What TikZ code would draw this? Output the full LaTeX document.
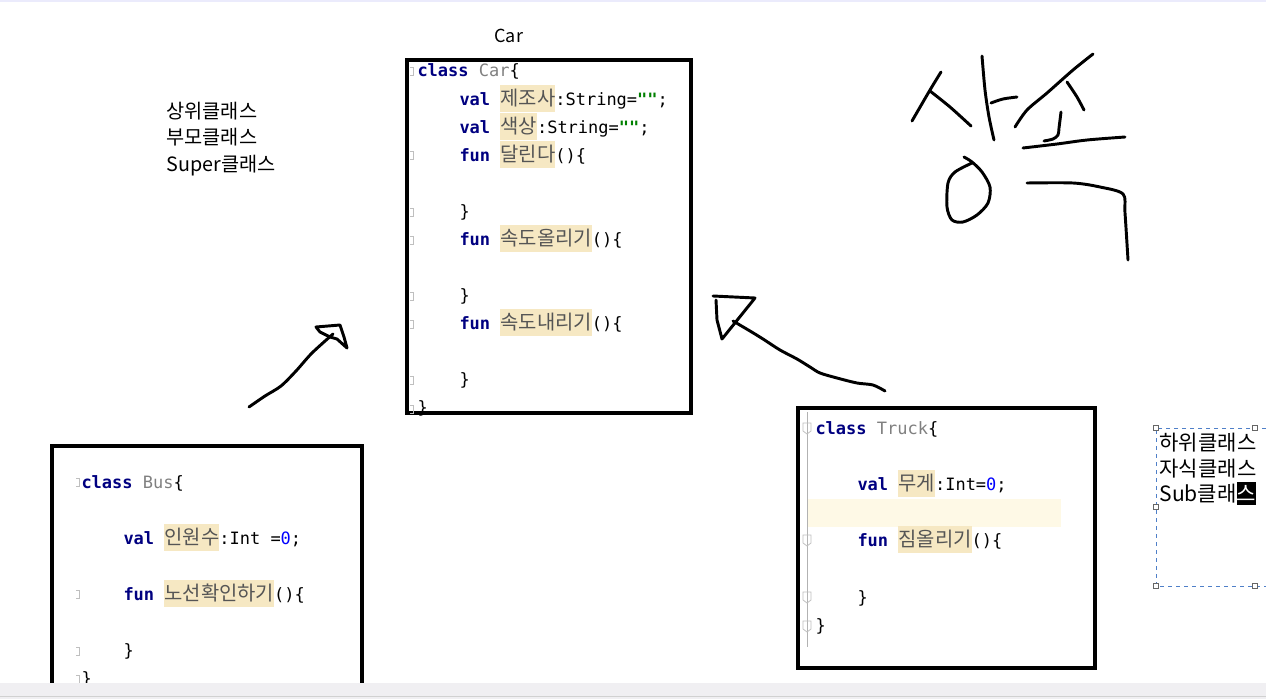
\documentclass[tikz,border=0pt]{standalone}
\usepackage{fontspec}
\setmonofont{DejaVu Sans Mono}
\newfontfamily\krfont{Noto Sans CJK KR}
\newfontfamily\krcode[Scale=1.17]{Noto Sans CJK KR}

\definecolor{kwblue}{HTML}{000080}
\definecolor{namegray}{HTML}{808080}
\definecolor{idgray}{HTML}{555555}
\definecolor{hlbg}{HTML}{F6E8C3}
\definecolor{strgreen}{HTML}{008000}
\definecolor{numblue}{HTML}{0000FF}
\definecolor{rowbg}{HTML}{FEF9E6}
\definecolor{selblue}{HTML}{4F7FC8}
\definecolor{barbg}{HTML}{F0EFF2}

\newcommand\kw[1]{{\bfseries\color{kwblue}#1}}
\newcommand\cname[1]{{\color{namegray}#1}}
\newcommand\hl[1]{{\setlength\fboxsep{0pt}\colorbox{hlbg}{\rule[-0.4em]{0pt}{1.58em}\krcode\color{idgray}#1}}}
\newcommand\str[1]{{\bfseries\color{strgreen}#1}}
\newcommand\num[1]{{\color{numblue}#1}}

\tikzset{every picture/.style={line width=0.75pt}}
\tikzset{
  code/.style={anchor=base west, inner sep=0pt, font=\ttfamily\fontsize{12.75}{15}\selectfont},
  codebox/.style={line width=3pt},
  fold/.style={draw=black!25, line width=0.6pt},
  hand/.style={line width=2.2pt, line cap=round, line join=round},
  label/.style={anchor=base west, inner sep=0pt, align=left},
}

\begin{document}
\begin{tikzpicture}[x=0.75pt,y=0.75pt,yscale=-1]
  \useasboundingbox (0,0) rectangle (1266,699);
  %Shape: Top line
  \fill[black!12!blue!8] (0,0) rectangle (1266,2);

  %Shape: Rectangle Car
  \draw[codebox] (407,60) rectangle (691,413);
  %Shape: Rectangle Bus
  \draw[codebox] (51.5,690) -- (51.5,446) -- (362,446) -- (362,690);
  %Shape: Rectangle Truck
  \fill[rowbg] (807,499) rectangle (1061,527);
  \draw[black!30, line width=0.6pt] (807,412) -- (807,647);
  \draw[codebox] (798,408) rectangle (1095,668);

  %fold marks
  \foreach \y in {71,155,212,240,296,324,380,409} {\draw[fold] (410,\y-4) -- (413,\y-4) -- (413,\y+4) -- (410,\y+4);}
  \foreach \y in {482,594,651,679} {\draw[fold] (76,\y-4) -- (79,\y-4) -- (79,\y+4) -- (76,\y+4);}
  \foreach \y in {428,540,597,626} {\draw[fold] (803,\y-5) -- (811,\y-5) -- (811,\y+3) -- (807,\y+6) -- (803,\y+3) -- cycle;}

  % Text Node: Car
  \node[code] (car1) at (417,77) {\kw{class} \cname{Car}\{};
  \node[code] (car2) at (459,105) {\kw{val} \hl{제조사}:String=\str{""};};
  \node[code] (car3) at (459,133) {\kw{val} \hl{색상}:String=\str{""};};
  \node[code] (car4) at (459,161) {\kw{fun} \hl{달린다}()\{};
  \node[code] (car5) at (459,217) {\}};
  \node[code] (car6) at (459,245) {\kw{fun} \hl{속도올리기}()\{};
  \node[code] (car7) at (459,301) {\}};
  \node[code] (car8) at (459,329) {\kw{fun} \hl{속도내리기}()\{};
  \node[code] (car9) at (459,385) {\}};
  \node[code] (car10) at (417,413) {\}};

  % Text Node: Bus
  \node[code] (bus1) at (81,488) {\kw{class} \cname{Bus}\{};
  \node[code] (bus2) at (123,544) {\kw{val} \hl{인원수}:Int =\num{0};};
  \node[code] (bus3) at (123,600) {\kw{fun} \hl{노선확인하기}()\{};
  \node[code] (bus4) at (123,656) {\}};
  \node[code] (bus5) at (81,684) {\}};

  % Text Node: Truck
  \node[code] (truck1) at (815,434) {\kw{class} \cname{Truck}\{};
  \node[code] (truck2) at (857,490) {\kw{val} \hl{무게}:Int=\num{0};};
  \node[code] (truck3) at (857,546) {\kw{fun} \hl{짐올리기}()\{};
  \node[code] (truck4) at (857,603) {\}};
  \node[code] (truck5) at (815,631) {\}};

  % Text Node
  \node[label, font=\krfont\fontsize{13.5}{16}\selectfont] (carlbl) at (494,43) {Car};
  % Text Node
  \node[label, font=\krfont\fontsize{14.8}{17}\selectfont] (super1) at (166,118) {상위클래스};
  \node[label, font=\krfont\fontsize{14.8}{17}\selectfont] (super2) at (166,144) {부모클래스};
  \node[label, font=\krfont\fontsize{14.8}{17}\selectfont] (super3) at (166,171) {Super클래스};
  % Text Node
  \node[label, font=\krfont\fontsize{15.8}{18}\selectfont] (sub1) at (1159,450) {하위클래스};
  \node[label, font=\krfont\fontsize{15.8}{18}\selectfont] (sub2) at (1159,476) {자식클래스};
  \node[label, font=\krfont\fontsize{15.8}{18}\selectfont] (sub3) at (1159,501) {Sub클래{\setlength\fboxsep{0pt}\colorbox{black}{\rule[-0.2em]{0pt}{1.1em}\color{white}스}}};

  %Shape: selection frame
  \draw[selblue, dashed, line width=0.75pt] (1266,428) -- (1156,428) -- (1156,586) -- (1266,586);
  \foreach \p in {(1156,428),(1255,428),(1156,507),(1156,586),(1255,586)}
    \draw[black!60, fill=white, line width=0.6pt] \p +(-2.5,-2.5) rectangle +(2.5,2.5);

  %Curve Lines: left arrow
  \draw[hand] plot[smooth, tension=0.5] coordinates {(249,407) (265,396) (281,386) (296,371) (312,353) (333,334)};
  \draw[hand] (316,327) -- (320,332) -- (330,337) -- (337,339) -- (347,348) -- (344,337) -- (340,325) -- cycle;
  %Curve Lines: right arrow
  \draw[hand] plot[smooth] coordinates {(885,391) (873,385) (857,383) (837,378) (820,373) (810,367) (797,359) (780,350) (763,339) (750,331) (733,321)};
  \draw[hand] (713,296) -- (755,298) -- (722,339) -- (717,320) -- (716,300);

  %Curve Lines: handwriting
  \draw[hand] plot[smooth] coordinates {(941,72) (930,90) (912,121)};
  \draw[hand] plot[smooth] coordinates {(930,91) (950,107) (971,126)};
  \draw[hand] plot[smooth] coordinates {(982,56) (985,90) (989,117) (994,140)};
  \draw[hand] plot[smooth] coordinates {(991,103) (1003,99) (1017,97)};
  \draw[hand] plot[smooth] coordinates {(964,157) (972,162) (982,172) (990,187) (988,203) (977,215) (963,222) (952,220) (947,207) (948,183) (955,172) (972,163)};
  \draw[hand] plot[smooth] coordinates {(1093,54) (1073,70) (1047,93) (1027,110) (1015,127)};
  \draw[hand] plot[smooth] coordinates {(1067,82) (1077,97) (1084,110)};
  \draw[hand] plot[smooth] coordinates {(1061,112) (1059,128) (1058,135) (1053,139) (1044,141)};
  \draw[hand] plot[smooth] coordinates {(1023,148) (1057,144) (1087,140) (1125,137)};
  \draw[hand] plot[smooth] coordinates {(1027,183) (1073,183) (1100,187) (1123,194) (1125,213) (1128,260)};

  %Shape: bottom bar
  \fill[barbg] (0,683) rectangle (1266,699);
  \draw[black!18, line width=0.6pt] (0,696) -- (1266,696);
\end{tikzpicture}
\end{document}
